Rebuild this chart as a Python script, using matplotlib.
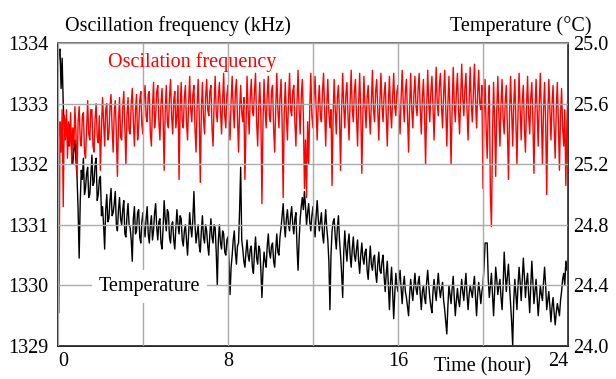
import numpy as np
import matplotlib
matplotlib.use("Agg")
import matplotlib.pyplot as plt

plt.rcParams['font.family'] = 'serif'
plt.rcParams['font.serif'] = ['Liberation Serif', 'DejaVu Serif']

# Oscillation frequency (kHz), read every 0.05 h from 0 to 24 h
freq_khz = [
    1332.6, 1329.55, 1332.7, 1332.2, 1332.9, 1331.3, 1332.8, 1332.4, 1332.9, 1332.1, 1332.7, 1332.3, 1332.85, 1332.0, 1332.6, 1332.3, 1332.95, 1332.5, 1331.8, 1332.7,
    1332.95, 1332.4, 1332.3, 1332.8, 1332.85, 1332.2, 1332.1, 1332.6, 1333.05, 1332.5, 1332.4, 1332.9, 1332.9, 1332.3, 1332.2, 1332.75, 1333.0, 1332.45, 1332.35, 1332.8,
    1331.9, 1332.6, 1333.1, 1332.7, 1332.3, 1332.9, 1333.0, 1332.4, 1332.5, 1332.95, 1333.15, 1332.6, 1332.2, 1332.85, 1333.05, 1332.5, 1331.8, 1332.7, 1333.1, 1332.45,
    1332.4, 1332.95, 1333.2, 1332.6, 1332.0, 1332.8, 1333.1, 1332.55, 1332.5, 1333.0, 1333.25, 1332.7, 1332.3, 1332.9, 1333.15, 1332.4, 1332.6, 1333.05, 1333.2, 1332.65,
    1332.5, 1333.1, 1333.3, 1332.8, 1332.7, 1333.15, 1333.2, 1332.5, 1332.3, 1332.95, 1333.35, 1332.6, 1332.8, 1333.2, 1333.3, 1332.7, 1332.4, 1333.0, 1333.25, 1332.75,
    1331.9, 1332.9, 1333.3, 1332.7, 1332.6, 1333.1, 1333.4, 1332.8, 1332.5, 1333.05, 1333.2, 1332.6, 1332.8, 1333.3, 1331.75, 1332.9, 1333.35, 1332.7, 1332.6, 1333.1,
    1333.3, 1332.7, 1332.4, 1333.0, 1333.45, 1332.9, 1332.7, 1333.15, 1333.3, 1332.6, 1332.2, 1332.95, 1333.4, 1332.8, 1331.7, 1332.9, 1333.35, 1332.75, 1332.5, 1333.1,
    1333.4, 1332.9, 1332.8, 1333.2, 1333.3, 1332.6, 1332.3, 1333.0, 1333.45, 1332.85, 1332.7, 1333.1, 1333.35, 1332.9, 1332.5, 1333.05, 1333.5, 1332.8, 1332.6, 1333.15,
    1333.3, 1332.7, 1332.4, 1333.05, 1333.45, 1332.9, 1332.6, 1333.2, 1333.4, 1332.75, 1332.2, 1332.9, 1333.3, 1332.85, 1332.7, 1333.1, 1331.75, 1332.6, 1333.45, 1332.9,
    1332.5, 1333.1, 1333.4, 1332.9, 1332.8, 1333.2, 1333.5, 1332.7, 1332.3, 1332.95, 1333.35, 1332.8, 1331.35, 1332.7, 1333.4, 1332.9, 1332.6, 1333.15, 1333.45, 1332.8,
    1332.7, 1333.2, 1333.3, 1332.6, 1332.2, 1332.95, 1333.5, 1332.9, 1332.6, 1333.1, 1333.4, 1332.7, 1331.45, 1332.85, 1333.35, 1332.8, 1332.4, 1333.05, 1333.5, 1332.9,
    1332.8, 1333.2, 1333.3, 1332.7, 1332.3, 1333.0, 1333.55, 1332.9, 1332.5, 1333.1, 1333.4, 1332.8, 1331.6, 1332.4, 1331.45, 1332.7, 1332.0, 1332.9, 1333.5, 1332.8,
    1332.6, 1333.1, 1333.45, 1332.9, 1332.4, 1333.0, 1333.3, 1332.8, 1332.7, 1333.2, 1333.5, 1332.9, 1332.3, 1332.95, 1333.4, 1332.85, 1332.6, 1332.9, 1331.65, 1332.8,
    1333.4, 1332.9, 1332.5, 1333.1, 1333.3, 1332.8, 1331.9, 1332.9, 1333.5, 1332.95, 1332.6, 1333.15, 1333.35, 1332.8, 1332.4, 1333.05, 1333.55, 1332.9, 1332.7, 1333.2,
    1333.4, 1332.8, 1332.3, 1333.0, 1333.5, 1332.9, 1331.85, 1332.8, 1333.45, 1332.95, 1332.6, 1333.1, 1333.3, 1332.85, 1332.5, 1333.05, 1333.55, 1332.9, 1332.7, 1333.2,
    1333.4, 1332.9, 1332.4, 1333.05, 1333.5, 1332.95, 1332.7, 1333.15, 1333.35, 1332.8, 1332.3, 1333.0, 1333.45, 1332.9, 1332.6, 1333.1, 1333.5, 1332.95, 1332.8, 1333.2,
    1333.3, 1332.85, 1332.5, 1333.1, 1333.55, 1333.0, 1332.7, 1333.2, 1333.4, 1332.8, 1332.2, 1332.95, 1333.5, 1332.9, 1332.6, 1333.15, 1333.45, 1332.95, 1332.8, 1333.25,
    1333.5, 1332.9, 1332.5, 1333.1, 1333.4, 1332.85, 1332.0, 1332.9, 1333.55, 1333.0, 1332.7, 1333.2, 1333.45, 1332.9, 1332.4, 1333.05, 1333.6, 1333.0, 1332.8, 1333.3,
    1333.5, 1332.95, 1332.6, 1333.15, 1333.55, 1332.9, 1332.3, 1333.0, 1333.45, 1332.85, 1332.0, 1332.9, 1333.6, 1333.0, 1332.7, 1333.2, 1333.5, 1332.9, 1332.5, 1333.1,
    1333.65, 1333.1, 1332.8, 1333.25, 1333.5, 1332.9, 1332.4, 1333.05, 1333.6, 1333.0, 1332.7, 1333.2, 1333.65, 1333.05, 1332.6, 1333.15, 1333.55, 1333.0, 1332.9, 1333.3,
    1331.6, 1332.8, 1333.4, 1332.6, 1332.1, 1332.9, 1333.3, 1331.5, 1330.97, 1332.5, 1333.35, 1332.7, 1331.8, 1332.9, 1333.45, 1332.8, 1332.3, 1333.0, 1333.4, 1332.75,
    1332.5, 1333.05, 1333.3, 1332.6, 1331.75, 1332.8, 1333.45, 1332.9, 1332.3, 1333.0, 1333.4, 1332.7, 1332.0, 1332.85, 1333.5, 1332.9, 1332.4, 1333.05, 1333.3, 1332.6,
    1332.2, 1332.95, 1333.45, 1332.8, 1332.5, 1333.1, 1333.35, 1332.7, 1331.85, 1332.85, 1333.4, 1332.9, 1332.3, 1333.0, 1333.5, 1332.8, 1332.0, 1332.9, 1333.35, 1332.7,
    1331.5, 1332.8, 1333.4, 1332.9, 1332.4, 1333.0, 1333.3, 1332.6, 1332.1, 1332.9, 1333.35, 1332.7, 1331.9, 1332.8, 1333.25, 1332.6, 1332.3, 1332.9, 1331.65, 1332.7,
    1333.2,
]

# Temperature (deg C), read every 0.05 h from 0 to 24 h
temperature_c = [
    25.80, 25.94, 25.96, 25.70, 25.90, 25.60, 25.44, 25.38, 25.50, 25.40, 25.32, 25.46, 25.44, 25.28, 25.20, 25.30, 25.36, 25.22, 25.12, 24.90,
    24.58, 24.95, 25.16, 25.10, 25.24, 25.00, 25.04, 25.14, 25.18, 24.98, 25.00, 25.12, 25.26, 25.06, 25.08, 25.20, 25.24, 24.96, 25.00, 25.10,
    25.12, 24.86, 24.92, 24.80, 24.64, 24.90, 25.00, 24.82, 24.84, 24.96, 25.04, 24.86, 24.88, 24.94, 25.02, 24.80, 24.76, 24.90, 24.98, 24.84,
    24.80, 24.90, 24.96, 24.74, 24.72, 24.86, 24.94, 24.80, 24.78, 24.70, 24.56, 24.84, 24.92, 24.74, 24.76, 24.88, 24.90, 24.72, 24.68, 24.82,
    24.88, 24.78, 24.72, 24.84, 24.92, 24.74, 24.68, 24.80, 24.86, 24.70, 24.76, 24.88, 24.94, 24.78, 24.70, 24.82, 24.84, 24.68, 24.64, 24.78,
    24.96, 24.84, 24.76, 24.90, 24.88, 24.72, 24.68, 24.80, 24.82, 24.70, 24.64, 24.78, 24.90, 24.80, 24.74, 24.86, 24.84, 24.70, 24.66, 24.76,
    24.80, 24.70, 24.60, 24.74, 24.88, 24.78, 24.72, 24.84, 25.02, 24.80, 24.68, 24.74, 24.80, 24.66, 24.62, 24.76, 24.86, 24.72, 24.68, 24.80,
    24.76, 24.66, 24.60, 24.74, 24.84, 24.72, 24.68, 24.80, 24.78, 24.62, 24.40, 24.70, 24.80, 24.68, 24.64, 24.76, 24.74, 24.62, 24.60, 24.70,
    24.72, 24.56, 24.34, 24.52, 24.60, 24.70, 24.76, 24.62, 24.54, 24.66, 24.68, 24.90, 25.18, 24.70, 24.64, 24.56, 24.52, 24.62, 24.70, 24.60,
    24.56, 24.64, 24.66, 24.52, 24.48, 24.62, 24.72, 24.58, 24.54, 24.66, 24.64, 24.50, 24.32, 24.50, 24.62, 24.56, 24.52, 24.66, 24.74, 24.62,
    24.58, 24.66, 24.68, 24.56, 24.52, 24.64, 24.74, 24.62, 24.60, 24.72, 24.78, 24.86, 24.94, 24.80, 24.72, 24.84, 24.90, 24.80, 24.76, 24.86,
    24.92, 24.80, 24.74, 24.84, 24.88, 24.66, 24.50, 24.70, 24.84, 24.92, 24.98, 24.90, 25.02, 24.92, 24.80, 24.88, 24.94, 24.82, 24.76, 24.86,
    24.92, 24.80, 24.72, 24.86, 24.96, 24.84, 24.76, 24.82, 24.88, 24.74, 24.68, 24.80, 24.90, 24.78, 24.70, 24.56, 24.24, 24.60, 24.76, 24.82,
    24.84, 24.72, 24.64, 24.78, 24.86, 24.70, 24.60, 24.48, 24.32, 24.62, 24.76, 24.64, 24.56, 24.68, 24.74, 24.60, 24.52, 24.64, 24.72, 24.60,
    24.56, 24.64, 24.70, 24.56, 24.48, 24.60, 24.68, 24.58, 24.54, 24.62, 24.64, 24.50, 24.44, 24.56, 24.66, 24.54, 24.50, 24.58, 24.60, 24.48,
    24.42, 24.54, 24.62, 24.50, 24.48, 24.56, 24.60, 24.46, 24.36, 24.48, 24.56, 24.40, 24.24, 24.42, 24.52, 24.36, 24.18, 24.34, 24.48, 24.40,
    24.36, 24.44, 24.50, 24.38, 24.28, 24.40, 24.46, 24.36, 24.32, 24.26, 24.20, 24.34, 24.44, 24.36, 24.30, 24.40, 24.48, 24.38, 24.34, 24.42,
    24.46, 24.34, 24.24, 24.36, 24.40, 24.32, 24.28, 24.42, 24.50, 24.40, 24.32, 24.26, 24.22, 24.36, 24.44, 24.36, 24.30, 24.40, 24.48, 24.38,
    24.32, 24.38, 24.42, 24.30, 24.24, 24.16, 24.08, 24.26, 24.40, 24.34, 24.28, 24.38, 24.46, 24.32, 24.20, 24.30, 24.38, 24.30, 24.26, 24.36,
    24.44, 24.36, 24.30, 24.40, 24.48, 24.34, 24.24, 24.34, 24.40, 24.36, 24.32, 24.40, 24.46, 24.32, 24.20, 24.34, 24.42, 24.36, 24.28, 24.36,
    24.40, 24.52, 24.68, 24.68, 24.68, 24.44, 24.32, 24.40, 24.48, 24.34, 24.20, 24.36, 24.52, 24.44, 24.34, 24.40, 24.44, 24.32, 24.24, 24.40,
    24.62, 24.48, 24.36, 24.46, 24.54, 24.40, 24.28, 24.16, 24.00, 24.30, 24.44, 24.34, 24.24, 24.40, 24.52, 24.42, 24.30, 24.44, 24.58, 24.46,
    24.32, 24.42, 24.48, 24.34, 24.22, 24.40, 24.56, 24.42, 24.28, 24.36, 24.44, 24.32, 24.20, 24.30, 24.40, 24.34, 24.30, 24.42, 24.52, 24.40,
    24.24, 24.30, 24.36, 24.26, 24.16, 24.26, 24.32, 24.22, 24.14, 24.22, 24.28, 24.24, 24.20, 24.30, 24.36, 24.44, 24.48, 24.40, 24.56, 24.50,
    24.60,
]

x_ticks = [0, 8, 16, 24]
freq_ticks = [1329, 1330, 1331, 1332, 1333, 1334]
temp_ticks = [24.0, 24.4, 24.8, 25.2, 25.6, 26.0]
temp_tick_labels = ['24.0', '24.4', '24.8', '25.2', '25.6', '25.0']

freq_time = np.linspace(0, 24, len(freq_khz))
temp_time = np.linspace(0, 24, len(temperature_c))

FS = 14.5

fig = plt.figure(figsize=(6.16, 3.79), dpi=100)
ax = fig.add_axes([0.094, 0.087, 0.828, 0.7995])
ax2 = ax.twinx()

ax2.plot(temp_time, temperature_c, color='black', lw=1.0)
ax.plot(freq_time, freq_khz, color='#ff0000', lw=1.0)

ax.set_zorder(ax2.get_zorder() + 1)
ax.patch.set_visible(False)

ax.set_xlim(0, 24)
ax.set_ylim(1329, 1334)
ax2.set_ylim(24.0, 26.0)

ax.set_xticks(x_ticks)
ax.set_xticks([4, 12, 20], minor=True)
ax.set_yticks(freq_ticks)
ax2.set_yticks(temp_ticks)
ax2.set_yticklabels(temp_tick_labels)

ax.set_axisbelow(False)
ax.grid(True, which='both', axis='x', color='#aaaaaa', lw=1.0)
ax.grid(True, which='major', axis='y', color='#aaaaaa', lw=1.0)

ax.tick_params(axis='both', which='both', length=0, labelsize=FS)
ax.tick_params(axis='x', pad=4)
ax.tick_params(axis='y', pad=7)
ax2.tick_params(axis='y', length=0, labelsize=FS, pad=4)

xl = ax.get_xticklabels()
xl[0].set_ha('left')
xl[-1].set_ha('right')

for a in (ax, ax2):
    a.spines['left'].set_color('#333333')
    a.spines['bottom'].set_color('#222222')
    a.spines['right'].set_color('#333333')
    a.spines['top'].set_color('#777777')
    for s in a.spines.values():
        s.set_linewidth(1.2)

ax.text(2.35, 1333.69, 'Oscilation frequency', color='#ff0000', fontsize=FS,
        ha='left', va='center')
ax.text(4.3, 1329.98, 'Temperature', color='black', fontsize=FS, ha='center',
        va='center', zorder=6,
        bbox=dict(facecolor='white', edgecolor='none', pad=5))

fig.text(65 / 616, 1 - 26 / 379, 'Oscillation frequency (kHz)', fontsize=FS,
         ha='left', va='center')
fig.text(592 / 616, 1 - 26 / 379, 'Temperature (\u00b0C)', fontsize=FS,
         ha='right', va='center')
fig.text(483 / 616, 1 - 367 / 379, 'Time (hour)', fontsize=FS,
         ha='center', va='center')

fig.savefig('out.png', dpi=100)
